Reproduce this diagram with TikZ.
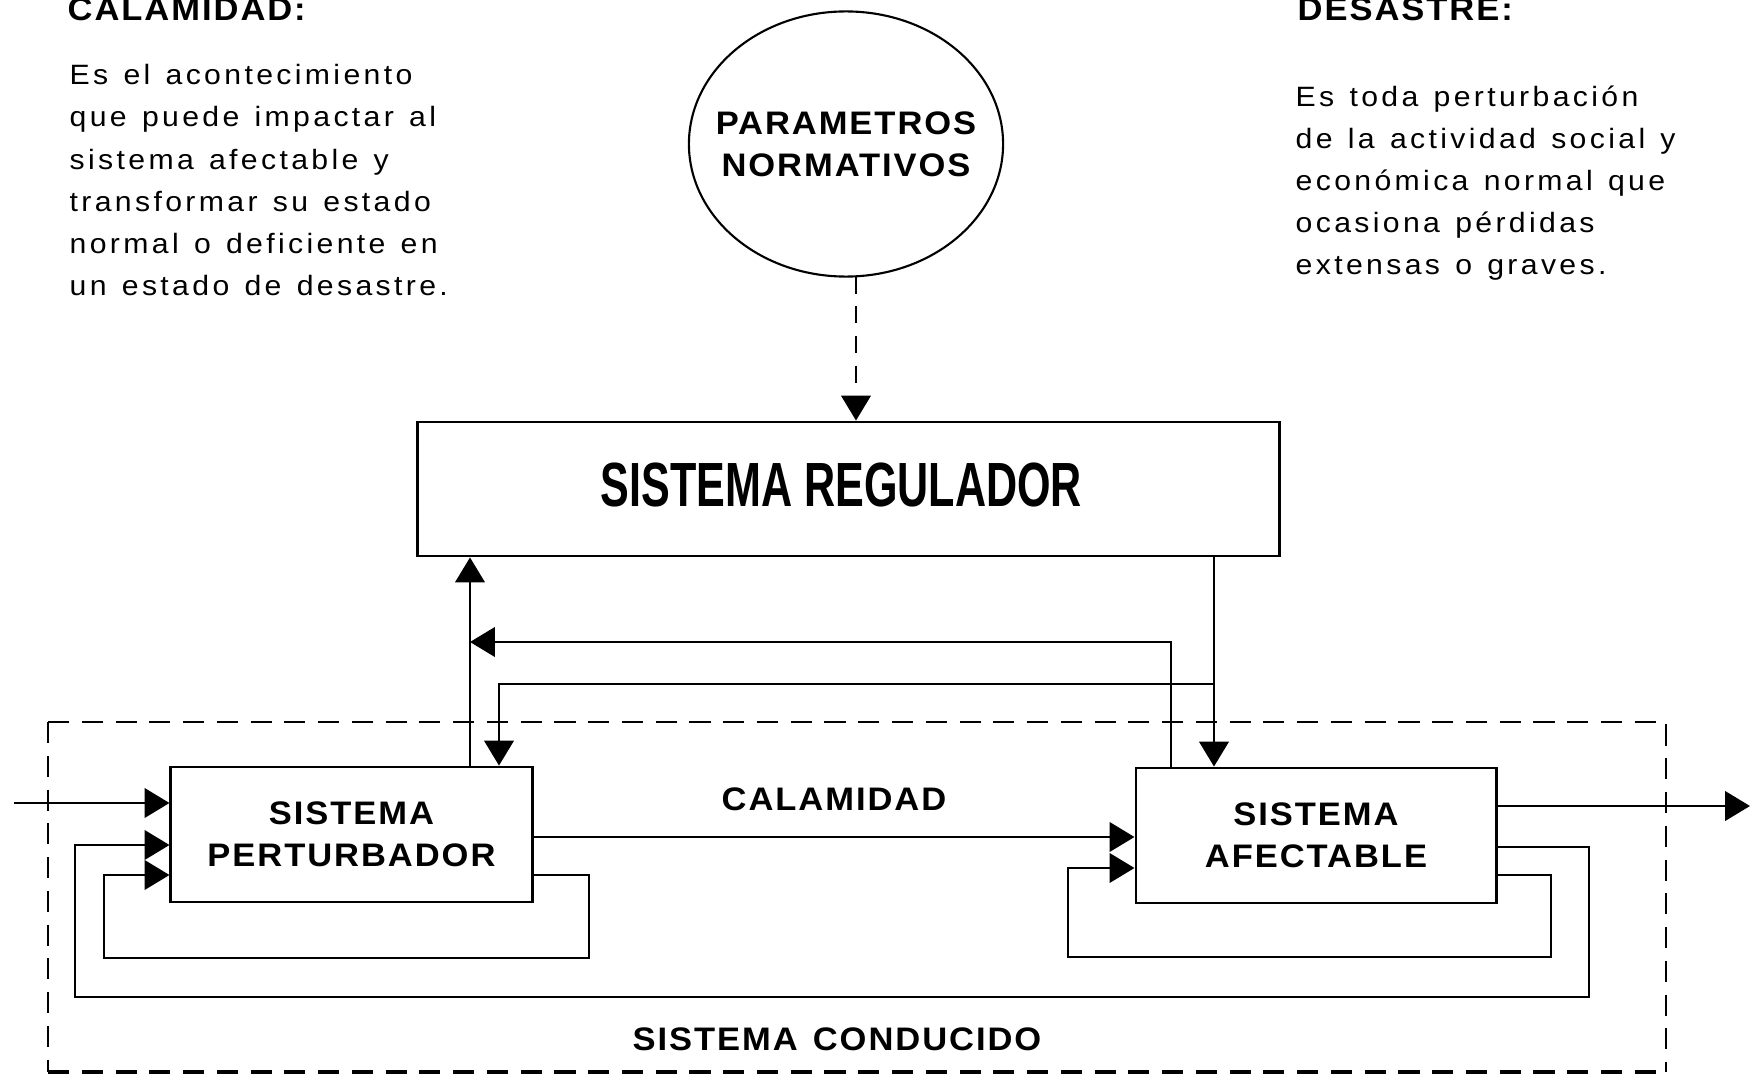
\documentclass[tikz,border=0pt]{standalone}
\usepackage{fontspec}
\setmainfont{Liberation Sans}
\newfontfamily\parfam{Liberation Sans}[FakeStretch=1.08,LetterSpace=12,WordSpace=1.3]
\newfontfamily\labfam{Liberation Sans}[FakeStretch=1.06,LetterSpace=6,WordSpace=1.3]
\newfontfamily\condfam{Liberation Sans}[FakeStretch=0.69]
\usetikzlibrary{arrows.meta,shapes.geometric}
\newcommand\partxt{\parfam\fontsize{7.95}{11.95}\selectfont}
\newcommand\labtxt{\labfam\bfseries\fontsize{9.26}{11.95}\selectfont}
\newcommand\regtxt{\condfam\bfseries\fontsize{17.76}{20}\selectfont}
\begin{document}
\begin{tikzpicture}[x=0.01cm,y=-0.01cm,
  ln/.style={line width=0.7pt},
  arr/.style={ln,-{Triangle[length=7.1pt,width=8.4pt]}},
  sysbox/.style={draw,line width=0.8pt,inner sep=0pt,align=center,font=\labtxt},
  frame/.style={line width=0.7pt,dash pattern=on 6pt off 3.6pt},
  txt/.style={inner sep=0pt},
]
\useasboundingbox (0,0) rectangle (1754,1076);

% nodes
\node[sysbox, minimum width=3.61cm, minimum height=1.35cm] (pert) at (351.5,834.5) {SISTEMA\\PERTURBADOR};
\node[sysbox, minimum width=3.60cm, minimum height=1.35cm] (afec) at (1316,835.5) {SISTEMA\\AFECTABLE};
\node[draw,line width=0.8pt,minimum width=8.61cm,minimum height=1.34cm,inner sep=0pt,text depth=0.09cm,font=\regtxt] (reg) at (848.5,489) {\hspace*{-0.14cm}SISTEMA REGULADOR};
\node[draw,ellipse,line width=0.6pt,minimum width=3.14cm,minimum height=2.65cm,inner sep=0pt] (circ) at (846,144) {};
\node[txt,align=center,font=\labtxt] (circtxt) at (circ.center) {PARAMETROS\\NORMATIVOS};

% texts
\node[txt,anchor=base west,font=\labtxt] (hcal) at (67,21) {CALAMIDAD:};
\node[txt,anchor=base west,font=\labtxt] (hdes) at (1297,21) {DESASTRE:};
\node[txt,anchor=north west,align=left,font=\partxt] (pcal) at (69,64) {Es el acontecimiento\\que puede impactar al\\sistema afectable y\\transformar su estado\\normal o deficiente en\\un estado de desastre.};
\node[txt,anchor=north west,align=left,font=\partxt] (pdes) at (1295,85.5) {Es toda perturbación\\de la actividad social y\\económica normal que\\ocasiona pérdidas\\extensas o graves.};
\node[txt,anchor=base,font=\labtxt] (lcal) at (834,810) {CALAMIDAD};
\node[txt,anchor=base,font=\labtxt] (lcond) at (837,1050) {SISTEMA CONDUCIDO};

% dashed frame of the driven system
\draw[frame] (48,722) -- (1666,722) -- (1666,1072);
\draw[frame] (48,722) -- (48,1072);
\draw[frame,line width=1.2pt] (48,1072) -- (1666,1072);

% connectors
\coordinate (inL) at (14,803);
\draw[arr] (inL) -- (inL -| pert.west);
\draw[arr] (pert.east |- 0,837) -- (afec.west |- 0,837);
\draw[arr] (pert.east |- 0,875) -- (589,875) -- (589,958) -- (104,958) -- (104,875) -- (pert.west |- 0,875);
\draw[arr] (afec.east |- 0,847) -- (1589,847) -- (1589,997) -- (75,997) -- (75,845) -- (pert.west |- 0,845);
\draw[arr] (afec.east |- 0,875) -- (1551,875) -- (1551,957) -- (1068,957) -- (1068,868) -- (afec.west |- 0,868);
\coordinate (outR) at (1750,806);
\draw[arr] (afec.east |- outR) -- (outR);
\coordinate (jL) at (470,642);
\draw[arr] (pert.north -| jL) -- (reg.south -| jL);
\draw[arr] (afec.north -| 1171,0) |- (jL);
\coordinate (jR) at (1214,684);
\draw[arr] (reg.south -| jR) -- (afec.north -| jR);
\draw[arr] (jR) -- (499,684) -- (pert.north -| 499,0);
\coordinate (dtop) at (856,276);
\draw[arr,dash pattern=on 5pt off 3.5pt] (dtop) -- (reg.north -| dtop);
\end{tikzpicture}
\end{document}
